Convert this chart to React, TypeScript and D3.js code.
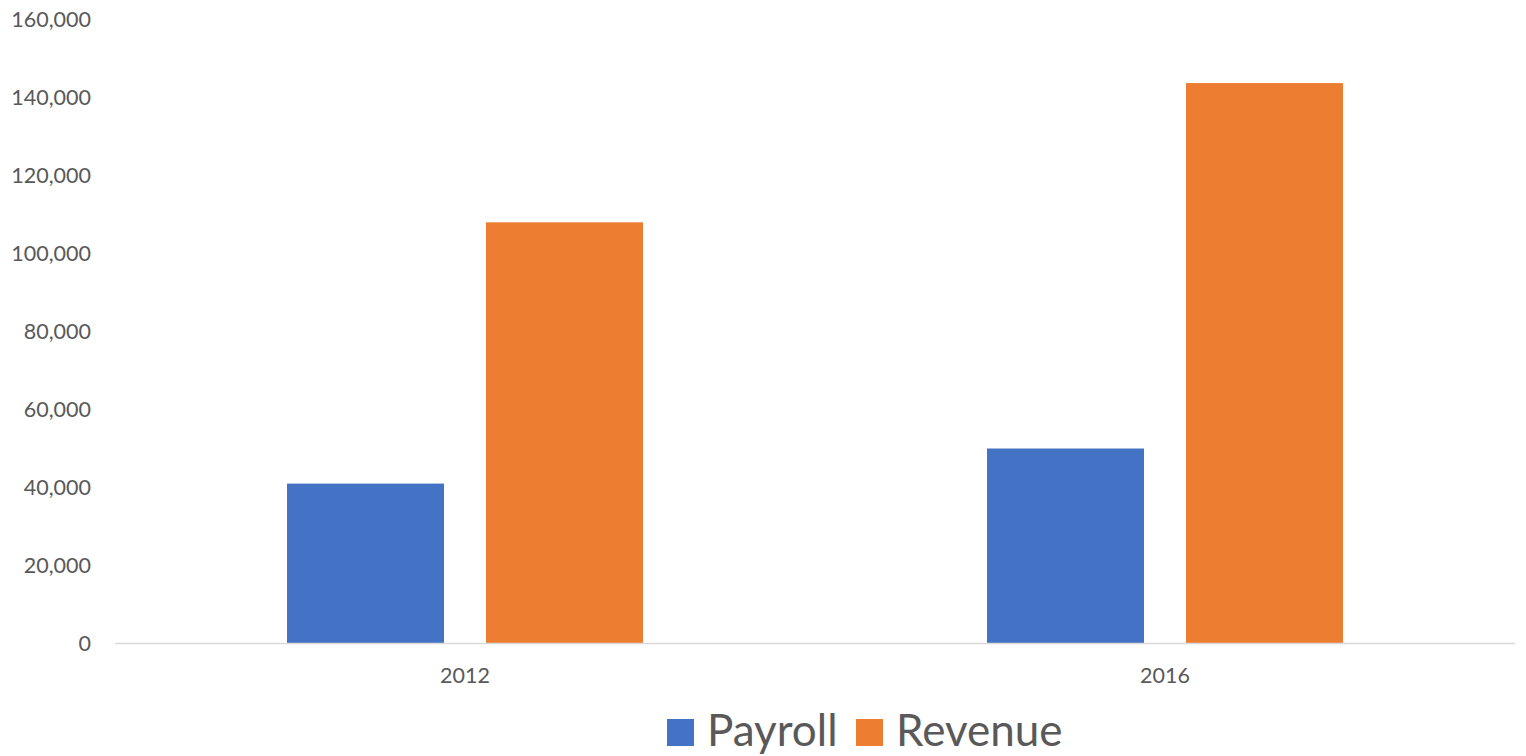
import React from "react";
import * as d3 from "d3";

const categories = ["2012", "2016"];
const seriesNames = ["Payroll", "Revenue"];
const payroll = [41000, 50000];
const revenue = [108000, 143700];
const yTicks = [0, 20000, 40000, 60000, 80000, 100000, 120000, 140000, 160000];
const colors = ["#4472C4", "#ED7D31"];

export default function App() {
  const W = 1526, H = 756;
  const left = 115, right = 1515, top = 19.5, bottom = 643.5;
  const x = d3.scaleBand<string>().domain(categories).range([left, right]).paddingInner(0).paddingOuter(0);
  const y = d3.scaleLinear().domain([0, 160000]).range([bottom, top]);
  const groupW = 356;
  const x1 = d3.scaleBand<string>().domain(seriesNames).range([0, groupW]).paddingInner(42 / 199).paddingOuter(0);
  const fmt = d3.format(",");
  const values = [payroll, revenue];
  const font = "Lato, 'Open Sans', sans-serif";
  return (
    <svg width={W} height={H} style={{ position: "absolute", left: 0, top: 0, background: "#fff" }}>
      <rect x={0} y={0} width={W} height={H} fill="#fff" />
      {yTicks.map((t) => (
        <text key={t} x={91} y={y(t)} dy="0.35em" textAnchor="end" fontFamily={font} fontSize={21.5} fill="#595959">
          {fmt(t)}
        </text>
      ))}
      {categories.map((c, i) => {
        const gx = (x(c) as number) + x.bandwidth() / 2 - groupW / 2;
        return (
          <g key={c}>
            {seriesNames.map((s, j) => (
              <rect
                key={s}
                x={gx + (x1(s) as number)}
                y={y(values[j][i])}
                width={x1.bandwidth()}
                height={bottom - y(values[j][i])}
                fill={colors[j]}
              />
            ))}
            <text x={(x(c) as number) + x.bandwidth() / 2} y={683} textAnchor="middle" fontFamily={font} fontSize={21.5} fill="#595959">
              {c}
            </text>
          </g>
        );
      })}
      <line x1={left} x2={right} y1={bottom} y2={bottom} stroke="#d9d9d9" strokeWidth={1.5} />
      <g>
        <rect x={667} y={719} width={27} height={27} fill={colors[0]} />
        <text x={707} y={746} fontFamily={font} fontSize={44} fill="#595959">{seriesNames[0]}</text>
        <rect x={856} y={719} width={27} height={27} fill={colors[1]} />
        <text x={896} y={746} fontFamily={font} fontSize={44} fill="#595959">{seriesNames[1]}</text>
      </g>
    </svg>
  );
}
